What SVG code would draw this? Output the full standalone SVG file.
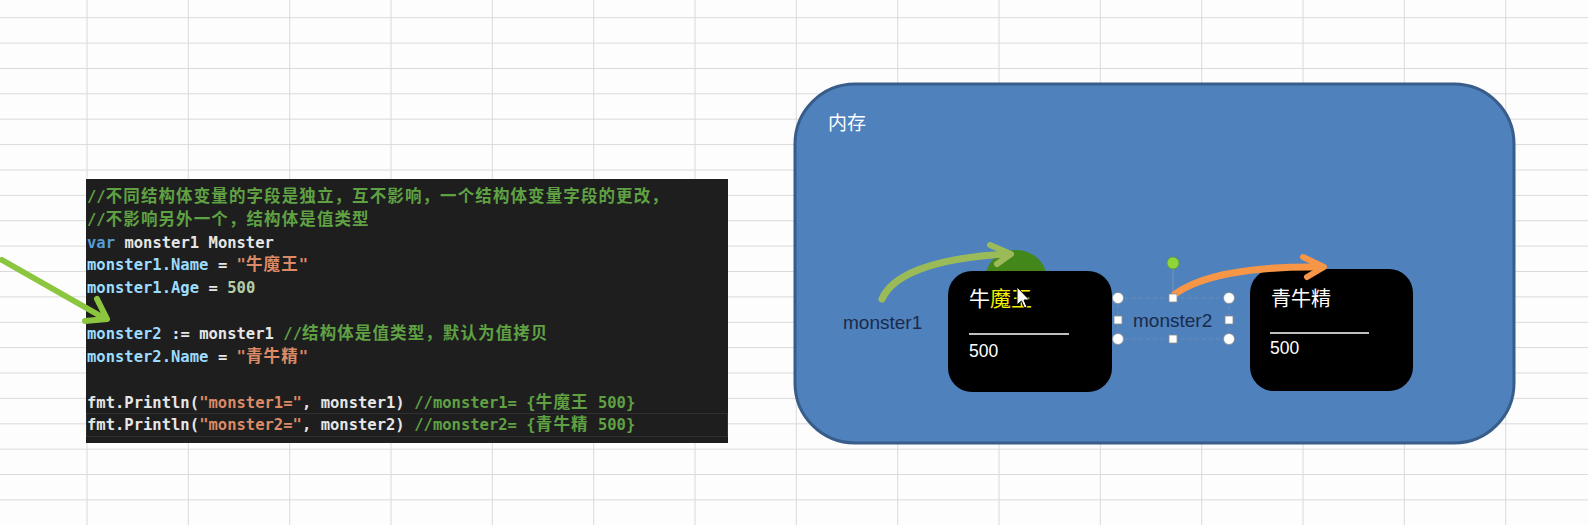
<svg xmlns="http://www.w3.org/2000/svg" width="1588" height="525" viewBox="0 0 1588 525">
<style>
.grid line{stroke:#dadada;stroke-width:1}
.code{font-family:"DejaVu Sans Mono","Liberation Mono",monospace;font-size:15.5px;font-weight:bold}
.cj{font-family:"Noto Sans CJK SC","Noto Sans CJK JP",sans-serif;font-size:16.5px;letter-spacing:1.1px;font-weight:bold}
.cm{fill:#5fa143}.kw{fill:#569cd6}.id{fill:#9cdcfe}.wt{fill:#e6e6e6}.st{fill:#dc8a66}.nu{fill:#b5cea8}
.lbl{font-family:"Liberation Sans",Arial,sans-serif;font-size:19px;fill:#1b2a4a}
.val{font-family:"Liberation Sans",Arial,sans-serif;font-size:17.5px;fill:#ffffff}
.cjk{font-family:"Noto Sans CJK SC","Noto Sans CJK JP",sans-serif}
.node{fill:#000000}
.hc{fill:#ffffff;stroke:#8c8c8c;stroke-width:0.8}
</style>
<rect x="0" y="0" width="1588" height="525" fill="#fdfdfd"/>
<g id="grid" class="grid">
<line x1="87" y1="0" x2="87" y2="525"/><line x1="188.3" y1="0" x2="188.3" y2="525"/><line x1="289.7" y1="0" x2="289.7" y2="525"/><line x1="391" y1="0" x2="391" y2="525"/><line x1="492.3" y1="0" x2="492.3" y2="525"/><line x1="593.7" y1="0" x2="593.7" y2="525"/><line x1="695" y1="0" x2="695" y2="525"/><line x1="796.3" y1="0" x2="796.3" y2="525"/><line x1="897.7" y1="0" x2="897.7" y2="525"/><line x1="999" y1="0" x2="999" y2="525"/><line x1="1100.3" y1="0" x2="1100.3" y2="525"/><line x1="1201.7" y1="0" x2="1201.7" y2="525"/><line x1="1303" y1="0" x2="1303" y2="525"/><line x1="1404.3" y1="0" x2="1404.3" y2="525"/><line x1="1505.7" y1="0" x2="1505.7" y2="525"/>
<line x1="0" y1="17.7" x2="1588" y2="17.7"/><line x1="0" y1="43.1" x2="1588" y2="43.1"/><line x1="0" y1="68.5" x2="1588" y2="68.5"/><line x1="0" y1="93.8" x2="1588" y2="93.8"/><line x1="0" y1="119.2" x2="1588" y2="119.2"/><line x1="0" y1="144.6" x2="1588" y2="144.6"/><line x1="0" y1="170" x2="1588" y2="170"/><line x1="0" y1="195.4" x2="1588" y2="195.4"/><line x1="0" y1="220.7" x2="1588" y2="220.7"/><line x1="0" y1="246.1" x2="1588" y2="246.1"/><line x1="0" y1="271.5" x2="1588" y2="271.5"/><line x1="0" y1="296.9" x2="1588" y2="296.9"/><line x1="0" y1="322.3" x2="1588" y2="322.3"/><line x1="0" y1="347.6" x2="1588" y2="347.6"/><line x1="0" y1="373" x2="1588" y2="373"/><line x1="0" y1="398.4" x2="1588" y2="398.4"/><line x1="0" y1="423.8" x2="1588" y2="423.8"/><line x1="0" y1="449.2" x2="1588" y2="449.2"/><line x1="0" y1="474.5" x2="1588" y2="474.5"/><line x1="0" y1="499.9" x2="1588" y2="499.9"/>
</g>
<g id="code-panel">
<rect x="86" y="179" width="642" height="264" fill="#1e1e1e"/>
<rect x="86.5" y="413.5" width="641" height="23" fill="none" stroke="#303030" stroke-width="1"/>
<text class="code" y="202"><tspan class="cm" x="87">//</tspan><tspan class="cj cm" x="105.7">不同结构体变量的字段是独立，互不影响，一个结构体变量字段的更改，</tspan></text>
<text class="code" y="225"><tspan class="cm" x="87">//</tspan><tspan class="cj cm" x="105.7">不影响另外一个，结构体是值类型</tspan></text>
<text class="code" y="248"><tspan class="kw" x="87">var</tspan><tspan class="wt" x="124.4">monster1</tspan><tspan class="wt" x="208.55">Monster</tspan></text>
<text class="code" y="270"><tspan class="id" x="87">monster1.Name</tspan><tspan class="wt" x="217.9">=</tspan><tspan class="st" x="236.6">"</tspan><tspan class="cj st" x="245.95">牛魔王</tspan><tspan class="st" x="298.75">"</tspan></text>
<text class="code" y="293"><tspan class="id" x="87">monster1.Age</tspan><tspan class="wt" x="208.55">=</tspan><tspan class="nu" x="227.25">500</tspan></text>
<text class="code" y="339"><tspan class="id" x="87">monster2</tspan><tspan class="wt" x="171.15">:=</tspan><tspan class="wt" x="199.2">monster1</tspan><tspan class="cm" x="283.35">//</tspan><tspan class="cj cm" x="302.05">结构体是值类型，默认为值拷贝</tspan></text>
<text class="code" y="362"><tspan class="id" x="87">monster2.Name</tspan><tspan class="wt" x="217.9">=</tspan><tspan class="st" x="236.6">"</tspan><tspan class="cj st" x="245.95">青牛精</tspan><tspan class="st" x="298.75">"</tspan></text>
<text class="code" y="408"><tspan class="wt" x="87">fmt.Println(</tspan><tspan class="st" x="199.2">"monster1="</tspan><tspan class="wt" x="302.05">, monster1)</tspan><tspan class="cm" x="414.25">//monster1= {</tspan><tspan class="cj cm" x="535.8">牛魔王</tspan><tspan class="cm" x="588.6" xml:space="preserve"> 500}</tspan></text>
<text class="code" y="430"><tspan class="wt" x="87">fmt.Println(</tspan><tspan class="st" x="199.2">"monster2="</tspan><tspan class="wt" x="302.05">, monster2)</tspan><tspan class="cm" x="414.25">//monster2= {</tspan><tspan class="cj cm" x="535.8">青牛精</tspan><tspan class="cm" x="588.6" xml:space="preserve"> 500}</tspan></text>
</g>
<g id="memory">
<rect x="795" y="84" width="719" height="359" rx="60" ry="60" fill="#4f81bd" stroke="#385d8a" stroke-width="3"/>
<text class="cjk" x="828" y="130" font-size="19" fill="#ffffff">内存</text>
</g>
<ellipse id="green-blob" cx="1016" cy="279" rx="31" ry="29" fill="#43861a"/>
<g id="node-niumowang">
<rect class="node" x="948" y="271" width="164" height="121" rx="24" ry="24"/>
<text class="cjk" x="969" y="306" font-size="21"><tspan fill="#ffffff">牛</tspan><tspan fill="#f4f000">魔王</tspan></text>
<line x1="969" y1="334" x2="1069" y2="334" stroke="#ffffff" stroke-width="1.5"/>
<text class="val" x="969" y="357">500</text>
<polygon points="1017,287 1017,305 1021.5,301 1024.5,308 1027,307 1024,300 1029.5,300" fill="#ffffff" stroke="#000000" stroke-width="1"/>
</g>
<g id="node-qingniujing">
<rect class="node" x="1250" y="269" width="163" height="122" rx="24" ry="24"/>
<text class="cjk" x="1271" y="306" font-size="20" fill="#ffffff">青牛精</text>
<line x1="1270" y1="333" x2="1369" y2="333" stroke="#ffffff" stroke-width="1.5"/>
<text class="val" x="1270" y="354">500</text>
</g>
<g id="label-monster1">
<text class="lbl" x="843" y="329">monster1</text>
</g>
<g id="label-monster2">
<rect x="1118" y="298" width="111" height="41" fill="none" stroke="#6d89b3" stroke-width="1" stroke-dasharray="4 3"/>
<line x1="1173" y1="269" x2="1173" y2="298" stroke="#7a93b8" stroke-width="1"/>
<text class="lbl" x="1133" y="327">monster2</text>
<circle class="hc" cx="1118" cy="298" r="5.5"/><circle class="hc" cx="1229" cy="298" r="5.5"/>
<circle class="hc" cx="1118" cy="339" r="5.5"/><circle class="hc" cx="1229" cy="339" r="5.5"/>
<rect class="hc" x="1114" y="316" width="8" height="8"/><rect class="hc" x="1225" y="316" width="8" height="8"/>
<rect class="hc" x="1169" y="335" width="8" height="8"/>
<circle cx="1173" cy="263" r="6" fill="#8ed53a" stroke="#5f9a2a" stroke-width="0.8"/>
</g>
<g id="connectors" fill="none" stroke-linecap="round" stroke-linejoin="round">
<path d="M2,260 L104,318" stroke="#8cc63f" stroke-width="6"/>
<polyline points="97,299 107,319 85,321" stroke="#8cc63f" stroke-width="6"/>
<path d="M882,299 C892,276 930,258 1008,254" stroke="#9bbb59" stroke-width="7"/>
<polyline points="990,245 1011,254 997,264" stroke="#9bbb59" stroke-width="6"/>
<path d="M1175,294 C1200,276 1250,266 1322,267" stroke="#f79646" stroke-width="7"/>
<polyline points="1303,257 1324,267 1307,277" stroke="#f79646" stroke-width="6"/>
</g>
<rect class="hc" x="1169" y="294" width="8" height="8"/>
</svg>
